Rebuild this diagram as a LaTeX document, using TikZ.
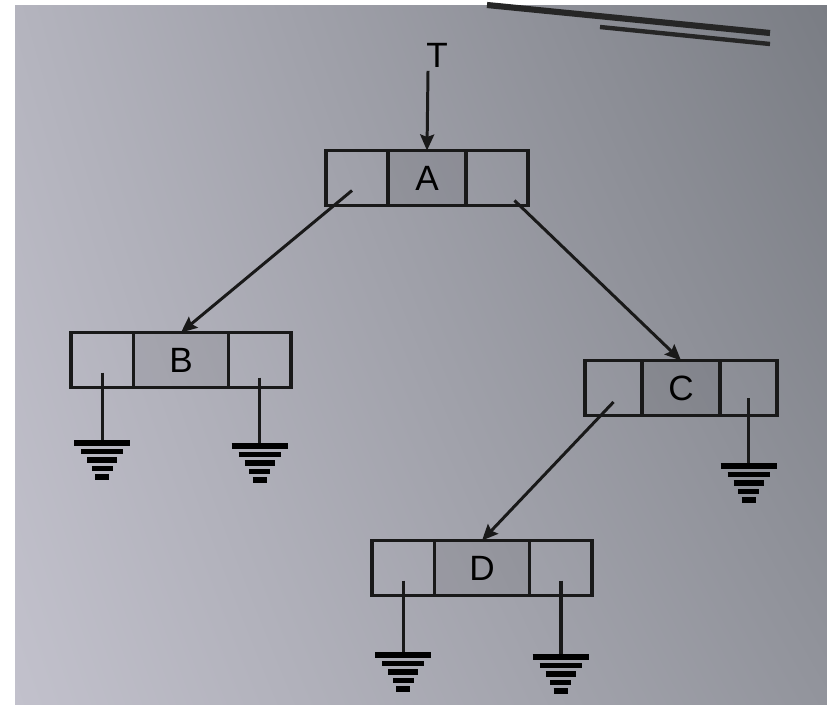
\documentclass[tikz,border=0pt]{standalone}
\usepackage{fontspec}
\setmainfont{Liberation Sans}
\usetikzlibrary{positioning,arrows.meta,shadings}

\definecolor{pageUL}{RGB}{180,180,190}
\definecolor{pageUR}{RGB}{122,125,132}
\definecolor{pageLL}{RGB}{194,193,204}
\definecolor{pageLR}{RGB}{146,148,156}

\tikzset{
  gnd/.pic={
    \foreach \w [count=\i from 0] in {56,42,30,21,14}
      \draw[line width=3.2pt] (-\w/2,\i*8.5) -- (\w/2,\i*8.5);
  }
}

\begin{document}
\begin{tikzpicture}[
  x=0.02cm, y=-0.02cm,
  font=\fontsize{20}{22}\selectfont,
  cell/.style={rectangle, draw=black!90, line width=2.1pt, outer sep=0pt,
               inner sep=0pt, minimum height=1.1cm},
  ptr/.style={cell, minimum width=1.25cm},
  dat/.style={cell, minimum width=1.55cm, fill=black, fill opacity=0.08, text opacity=1},
  link/.style={-{Stealth[length=3.2mm,width=2.8mm,inset=0.5mm]}, line width=1.7pt, draw=black!90},
  nil/.style={line width=2pt, draw=black!90}
]
% page
\fill[white] (0,0) rectangle (827,710);
\shade[upper left=pageUL, upper right=pageUR,
       lower left=pageLL, lower right=pageLR]
  (15,5) rectangle (827,704);
\useasboundingbox (0,0) rectangle (827,710);

% running head rules
\draw[line width=3.5pt, black!85] (487,5) -- (770,33);
\draw[line width=2.5pt, black!85] (600,27) -- (770,44);

% records
\node[dat] (a) at (427,178) {A};
\node[ptr, left=0pt of a] (aL) {};
\node[ptr, right=0pt of a] (aR) {};

\node[dat, minimum width=1.9cm] (b) at (181,360) {B};
\node[ptr, left=0pt of b] (bL) {};
\node[ptr, right=0pt of b] (bR) {};

\node[dat] (c) at (681,388) {C};
\node[ptr, left=0pt of c, minimum width=1.15cm] (cL) {};
\node[ptr, right=0pt of c, minimum width=1.15cm] (cR) {};

\node[dat, minimum width=1.9cm] (d) at (482,568) {D};
\node[ptr, left=0pt of d] (dL) {};
\node[ptr, right=0pt of d] (dR) {};

% root pointer
\node[inner sep=2pt] (t) at (437,55) {T};
\draw[link] ([xshift=-0.18cm]t.south) -- (a.north);

% child links
\draw[link] ([xshift=-0.1cm,yshift=-0.25cm]aL.center) -- (b.north);
\draw[link] ([xshift=0.35cm,yshift=-0.45cm]aR.center) -- (c.north);
\draw[link] ([yshift=-0.28cm]cL.center) -- (d.north);

% null pointers
\coordinate (g1) at (bL |- 0,443);
\coordinate (g2) at (bR |- 0,446);
\coordinate (g3) at (cR |- 0,466);
\coordinate (g4) at (dL |- 0,655);
\coordinate (g5) at (dR |- 0,657);
\draw[nil] ([yshift=-0.25cm]bL.center) -- (g1);
\draw[nil] ([yshift=-0.35cm]bR.center) -- (g2);
\draw[nil] ([yshift=-0.2cm]cR.center) -- (g3);
\draw[nil] ([yshift=-0.25cm]dL.center) -- (g4);
\draw[nil] ([yshift=-0.25cm]dR.center) -- (g5);
\foreach \g in {g1,g2,g3,g4,g5}
  \pic at (\g) {gnd};
\end{tikzpicture}
\end{document}
